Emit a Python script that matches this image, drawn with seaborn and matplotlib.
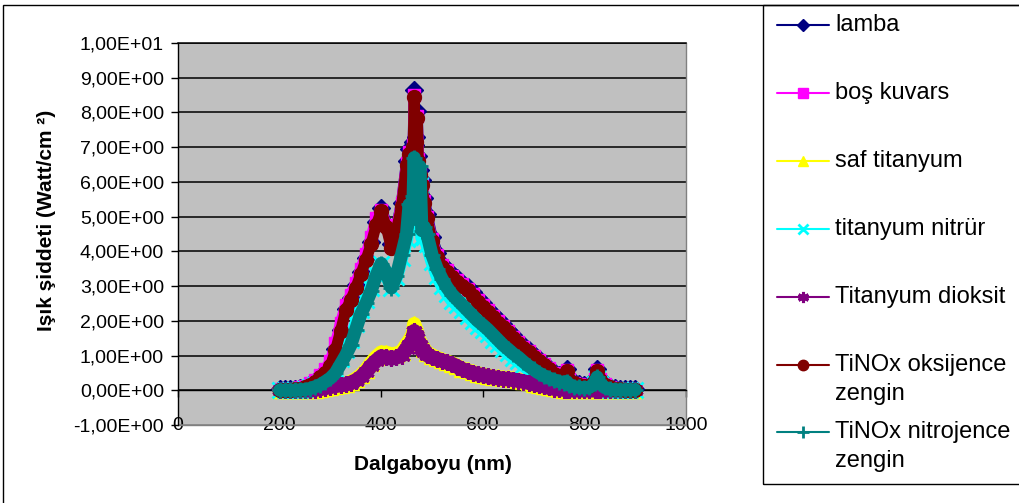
import matplotlib
matplotlib.use("Agg")
import matplotlib.pyplot as plt
import numpy as np
import pandas as pd
import seaborn as sns
from matplotlib.lines import Line2D
from matplotlib.patches import Rectangle
from matplotlib.ticker import FuncFormatter

# ---------------- data ----------------
dalgaboyu = [200, 210, 220, 230, 240, 250, 260, 270, 280, 290,
             300, 310, 320, 330, 340, 350, 360, 370, 380, 390,
             400, 410, 420, 430, 440, 450, 455, 460, 463, 465,
             467, 469, 471, 473, 476, 480, 485, 490, 500, 510,
             520, 530, 540, 550, 560, 570, 580, 590, 600, 610,
             620, 630, 640, 650, 660, 670, 680, 690, 700, 710,
             720, 730, 740, 750, 760, 765, 770, 780, 790, 800,
             810, 820, 825, 830, 840, 850, 860, 870, 880, 890,
             900]

lamba = [0.03, 0.03, 0.03, 0.04, 0.06, 0.10, 0.17, 0.28, 0.40, 0.54,
         0.74, 1.20, 1.75, 2.35, 2.66, 3.02, 3.42, 3.82, 4.28, 4.84,
         5.24, 4.80, 4.20, 4.70, 5.40, 6.60, 6.95, 6.85, 7.15, 8.65,
         7.05, 7.30, 8.05, 6.75, 6.35, 6.05, 5.55, 5.08, 4.42, 3.96,
         3.65, 3.50, 3.35, 3.22, 3.10, 2.98, 2.82, 2.65, 2.50, 2.34,
         2.19, 2.04, 1.90, 1.75, 1.58, 1.42, 1.29, 1.17, 1.01, 0.89,
         0.77, 0.65, 0.53, 0.45, 0.47, 0.62, 0.35, 0.24, 0.18, 0.15,
         0.15, 0.35, 0.62, 0.35, 0.18, 0.10, 0.06, 0.04, 0.03, 0.03,
         0.03]

bos_kuvars = [0.03, 0.03, 0.03, 0.05, 0.08, 0.12, 0.20, 0.31, 0.44, 0.60,
              0.85, 1.35, 1.95, 2.45, 2.75, 3.10, 3.50, 3.92, 4.40, 4.95,
              5.20, 4.75, 4.15, 4.65, 5.40, 6.55, 6.85, 6.75, 7.05, 8.50,
              6.95, 7.20, 7.90, 6.65, 6.25, 5.95, 5.45, 5.00, 4.35, 3.90,
              3.60, 3.45, 3.30, 3.17, 3.05, 2.93, 2.77, 2.60, 2.45, 2.30,
              2.15, 2.00, 1.86, 1.71, 1.54, 1.39, 1.26, 1.14, 0.98, 0.86,
              0.75, 0.63, 0.51, 0.43, 0.45, 0.58, 0.33, 0.22, 0.17, 0.14,
              0.14, 0.33, 0.58, 0.33, 0.17, 0.09, 0.06, 0.04, 0.03, 0.02,
              0.02]

saf_titanyum = [0.00, 0.00, 0.00, 0.00, 0.00, 0.00, 0.00, 0.02, 0.04, 0.07,
                0.10, 0.13, 0.16, 0.19, 0.24, 0.32, 0.43, 0.58, 0.78, 0.95,
                1.08, 1.07, 1.03, 1.05, 1.10, 1.32, 1.42, 1.55, 1.65, 1.90,
                1.62, 1.75, 1.62, 1.45, 1.40, 1.30, 1.18, 1.08, 1.00, 0.93,
                0.87, 0.82, 0.77, 0.70, 0.62, 0.57, 0.52, 0.48, 0.45, 0.42,
                0.39, 0.37, 0.35, 0.34, 0.32, 0.29, 0.26, 0.23, 0.19, 0.16,
                0.13, 0.09, 0.06, 0.04, 0.02, 0.01, 0.00, 0.00, 0.00, 0.00,
                0.00, 0.00, 0.00, 0.00, 0.00, 0.00, 0.00, 0.00, 0.00, 0.00,
                0.00]

titanyum_nitrur = [0.00, 0.00, 0.00, 0.01, 0.02, 0.04, 0.08, 0.14, 0.22, 0.33,
                   0.45, 0.62, 0.90, 1.15, 1.45, 1.90, 2.32, 2.60, 2.95, 3.35,
                   3.65, 3.35, 2.95, 3.25, 3.80, 4.35, 5.00, 4.70, 5.25, 6.20,
                   5.10, 5.40, 5.80, 4.80, 5.90, 4.40, 4.40, 4.20, 3.70, 3.30,
                   3.00, 2.78, 2.58, 2.45, 2.30, 2.15, 2.00, 1.86, 1.74, 1.61,
                   1.46, 1.32, 1.18, 1.06, 0.94, 0.84, 0.72, 0.60, 0.50, 0.42,
                   0.34, 0.28, 0.24, 0.20, 0.18, 0.22, 0.12, 0.08, 0.07, 0.06,
                   0.07, 0.18, 0.35, 0.18, 0.06, 0.02, 0.01, 0.01, 0.01, 0.01,
                   0.01]

titanyum_dioksit = [0.00, 0.00, 0.00, 0.00, 0.00, 0.00, 0.00, 0.02, 0.04, 0.07,
                    0.10, 0.13, 0.15, 0.17, 0.21, 0.28, 0.38, 0.52, 0.70, 0.85,
                    0.97, 0.95, 0.92, 0.95, 1.00, 1.20, 1.30, 1.40, 1.50, 1.70,
                    1.50, 1.60, 1.50, 1.35, 1.30, 1.20, 1.10, 1.02, 0.95, 0.90,
                    0.85, 0.80, 0.75, 0.68, 0.60, 0.55, 0.50, 0.46, 0.43, 0.40,
                    0.37, 0.35, 0.33, 0.32, 0.30, 0.28, 0.25, 0.22, 0.18, 0.15,
                    0.12, 0.08, 0.05, 0.03, 0.02, 0.01, 0.00, 0.00, 0.00, 0.00,
                    0.00, 0.00, 0.00, 0.00, 0.00, 0.00, 0.00, 0.00, 0.00, 0.00,
                    0.00]

tinox_oksijence = [0.02, 0.02, 0.02, 0.03, 0.05, 0.08, 0.15, 0.25, 0.37, 0.50,
                   0.70, 1.15, 1.70, 2.30, 2.60, 2.95, 3.35, 3.75, 4.20, 4.75,
                   5.15, 4.70, 4.10, 4.60, 5.30, 6.50, 6.80, 6.70, 7.00, 8.45,
                   6.90, 7.15, 7.85, 6.60, 6.20, 5.90, 5.40, 4.95, 4.30, 3.85,
                   3.55, 3.40, 3.25, 3.12, 3.00, 2.88, 2.72, 2.55, 2.40, 2.25,
                   2.10, 1.95, 1.82, 1.67, 1.50, 1.35, 1.22, 1.10, 0.95, 0.83,
                   0.72, 0.60, 0.48, 0.40, 0.42, 0.55, 0.30, 0.20, 0.15, 0.12,
                   0.12, 0.30, 0.55, 0.30, 0.15, 0.08, 0.05, 0.03, 0.02, 0.02,
                   0.02]

tinox_nitrojence = [0.00, 0.00, 0.00, 0.00, 0.01, 0.02, 0.05, 0.10, 0.16, 0.25,
                    0.35, 0.50, 0.75, 1.00, 1.30, 1.75, 2.20, 2.50, 2.85, 3.30,
                    3.65, 3.40, 2.95, 3.30, 3.90, 4.50, 5.35, 4.90, 5.60, 6.70,
                    5.30, 5.70, 6.20, 5.00, 6.45, 4.60, 4.70, 4.50, 3.90, 3.50,
                    3.20, 2.95, 2.75, 2.60, 2.45, 2.30, 2.15, 2.00, 1.88, 1.75,
                    1.60, 1.45, 1.30, 1.18, 1.05, 0.95, 0.82, 0.70, 0.60, 0.50,
                    0.42, 0.35, 0.30, 0.25, 0.22, 0.25, 0.15, 0.10, 0.08, 0.07,
                    0.08, 0.20, 0.38, 0.20, 0.08, 0.03, 0.01, 0.01, 0.01, 0.01,
                    0.01]

seri_adlari = ["lamba", "boş kuvars", "saf titanyum", "titanyum nitrür",
               "Titanyum dioksit", "TiNOx oksijence zengin", "TiNOx nitrojence zengin"]
seri_degerleri = [lamba, bos_kuvars, saf_titanyum, titanyum_nitrur,
                  titanyum_dioksit, tinox_oksijence, tinox_nitrojence]
legend_satirlari = [["lamba"], ["boş kuvars"], ["saf titanyum"], ["titanyum nitrür"],
                    ["Titanyum dioksit"], ["TiNOx oksijence", "zengin"],
                    ["TiNOx nitrojence", "zengin"]]
y_ticks = [-1, 0, 1, 2, 3, 4, 5, 6, 7, 8, 9, 10]
x_ticks = [0, 200, 400, 600, 800, 1000]

# ---------------- styles ----------------
stiller = {
    "lamba": dict(c="#000080", m="D", ms=9.0, mew=1.0, lw=8.0, lms=6.5),
    "boş kuvars": dict(c="#FF00FF", m="s", ms=9.0, mew=1.0, lw=8.0, lms=6.5),
    "saf titanyum": dict(c="#FFFF00", m="^", ms=11.0, mew=1.0, lw=10.5, lms=7.5),
    "titanyum nitrür": dict(c="#00FFFF", m="x", ms=11.0, mew=2.0, lw=9.5, lms=7.5),
    "Titanyum dioksit": dict(c="#800080", m=(6, 2, 0), ms=12.0, mew=2.2, lw=10.5, lms=8.0),
    "TiNOx oksijence zengin": dict(c="#800000", m="o", ms=10.0, mew=1.0, lw=8.0, lms=7.5),
    "TiNOx nitrojence zengin": dict(c="#008080", m="+", ms=12.0, mew=2.0, lw=9.5, lms=9.0),
}

sns.set_style("ticks")
plt.rcParams["font.family"] = ["Liberation Sans", "DejaVu Sans"]
plt.rcParams["text.color"] = "black"
plt.rcParams["axes.labelcolor"] = "black"
plt.rcParams["xtick.color"] = "black"
plt.rcParams["ytick.color"] = "black"

rows = []
for ad, vals in zip(seri_adlari, seri_degerleri):
    for w, v in zip(dalgaboyu, vals):
        rows.append((ad, w, v))
df = pd.DataFrame(rows, columns=["Seri", "Dalgaboyu", "Siddet"])

W, H = 1019, 503
fig = plt.figure(figsize=(W / 100, H / 100), dpi=100)
fig.patch.set_facecolor("white")
ax = fig.add_axes([178 / W, 1 - 425 / H, 508 / W, 382 / H])
ax.set_facecolor("#C0C0C0")

for ad in seri_adlari:
    st = stiller[ad]
    sns.lineplot(data=df[df["Seri"] == ad], x="Dalgaboyu", y="Siddet", ax=ax,
                 color=st["c"], marker=st["m"], markersize=st["ms"],
                 mec=st["c"], mfc=st["c"], mew=st["mew"], linewidth=st["lw"],
                 solid_joinstyle="round", solid_capstyle="round",
                 sort=False, estimator=None, legend=False, zorder=3)

ax.set_xlim(0, 1000)
ax.set_ylim(-1, 10)
ax.set_yticks(y_ticks)
ax.set_xticks(x_ticks)
ax.yaxis.set_major_formatter(FuncFormatter(lambda v, p: f"{v:.2E}".replace(".", ",")))
ax.xaxis.set_major_formatter(FuncFormatter(lambda v, p: f"{int(v)}"))

ax.set_axisbelow(True)
ax.grid(axis="y", color="black", linewidth=1.1)
ax.grid(axis="x", visible=False)
ax.get_ygridlines()[0].set_color("#808080")

ax.spines["bottom"].set_position(("data", 0))
ax.spines["bottom"].set_color("black")
ax.spines["bottom"].set_linewidth(1.0)
ax.spines["left"].set_color("black")
ax.spines["left"].set_linewidth(1.0)
ax.spines["top"].set_color("black")
ax.spines["top"].set_linewidth(1.1)
ax.spines["right"].set_color("#808080")
ax.spines["right"].set_linewidth(1.0)
ax.spines["right"].set_visible(True)
ax.spines["top"].set_visible(True)
ax.axhline(-1, color="#808080", linewidth=1.0, clip_on=False, zorder=1)

ax.tick_params(axis="y", left=True, direction="out", length=5, width=1,
               labelsize=14, pad=5)
ax.tick_params(axis="x", bottom=True, direction="out", length=5, width=1,
               labelsize=14, pad=14)

ax.set_xlabel("Dalgaboyu (nm)", fontsize=15, fontweight="bold")
ax.set_ylabel("Işık şiddeti (Watt/cm ²)", fontsize=15, fontweight="bold")
ax.xaxis.set_label_coords((433 - 178) / 508, (425 - 455) / 382)
ax.yaxis.set_label_coords((56 - 178) / 508, (425 - 220) / 382)

# chart area border and legend box
fig.add_artist(Rectangle((3 / W, -0.1), 1.2, (1 - 5 / H) + 0.1,
                         transform=fig.transFigure, fill=False,
                         edgecolor="black", linewidth=1.0))
fig.add_artist(Rectangle((763 / W, 1 - 484 / H), 0.5, (484 - 5) / H,
                         transform=fig.transFigure, fill=False,
                         edgecolor="black", linewidth=1.0))

legend_y = [25, 93, 161, 229, 297, 365, 432]
for ad, satirlar, yp in zip(seri_adlari, legend_satirlari, legend_y):
    st = stiller[ad]
    fy = 1 - yp / H
    fig.add_artist(Line2D([777 / W, 803 / W, 829 / W], [fy, fy, fy],
                          transform=fig.transFigure, color=st["c"], linewidth=1.5,
                          marker=st["m"], markevery=[1], markersize=st["lms"],
                          mec=st["c"], mfc=st["c"], mew=st["mew"]))
    for k, s in enumerate(satirlar):
        fig.text(835 / W, 1 - (yp + 29 * k) / H, s, fontsize=17,
                 ha="left", va="center", color="black")

fig.savefig("out.png", dpi=100)
